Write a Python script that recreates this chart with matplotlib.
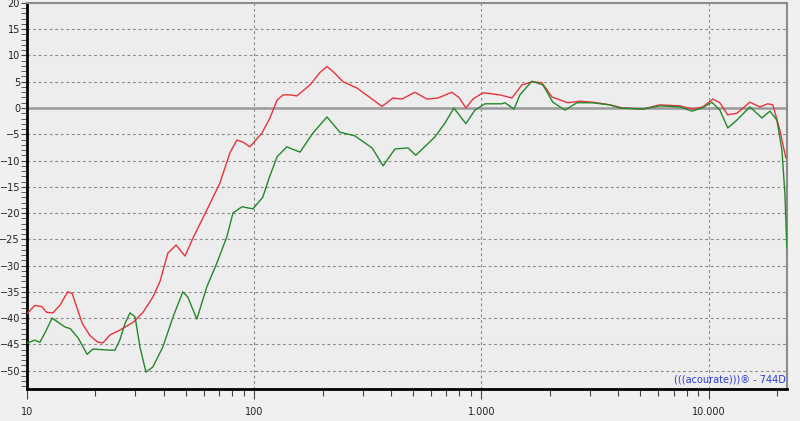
import matplotlib
matplotlib.use("Agg")
import matplotlib.pyplot as plt
from matplotlib.ticker import FixedLocator, FuncFormatter, MultipleLocator

# frequency response (Hz, dB)
red_freq = [10.0, 10.8, 11.6, 12.2, 13.0, 14.0, 15.1, 15.8, 17.5, 18.9, 20.5, 21.6,
            23.2, 25.6, 29.3, 32.4, 35.8, 38.5, 41.7, 45.3, 49.6, 53.7, 61.9, 70.6,
            78.2, 83.9, 89.2, 95.7, 108, 117, 126, 134, 144, 154, 176, 195, 209, 224,
            246, 283, 323, 365, 408, 447, 509, 575, 643, 741, 796, 854, 917, 1014,
            1205, 1361, 1506, 1683, 1845, 2042, 2400, 2710, 3092, 3672, 4189, 5128,
            6095, 7464, 8515, 9419, 10420, 11190, 12130, 13300, 15170, 16790, 18200,
            19150, 20550, 21840]
red_db = [-39.2, -37.6, -37.8, -38.9, -39.0, -37.5, -35.0, -35.3, -41.0, -43.3, -44.6, -44.7,
          -43.2, -42.3, -40.8, -38.9, -36.0, -33.0, -27.6, -26.1, -28.2, -24.8, -19.4, -14.3,
          -8.5, -6.1, -6.5, -7.4, -4.8, -2.0, 1.5, 2.5, 2.5, 2.3, 4.4, 6.8, 7.9, 6.8,
          5.0, 3.8, 2.0, 0.3, 1.9, 1.7, 3.0, 1.7, 1.9, 3.0, 2.0, 0.0, 1.7, 2.9,
          2.5, 1.9, 4.4, 5.0, 4.8, 2.1, 1.0, 1.3, 1.1, 0.6, 0.0, -0.2,
          0.6, 0.4, -0.2, 0.2, 1.7, 1.0, -1.3, -1.0, 1.1, 0.2, 0.8,
          0.6, -4.2, -9.5]

green_freq = [10.0, 10.8, 11.4, 12.1, 12.9, 13.7, 14.7, 15.5, 16.8, 18.4, 19.5, 23.2,
              24.4, 25.6, 27.0, 28.4, 29.9, 31.4, 33.4, 35.8, 39.6, 43.9, 48.5, 51.0,
              55.9, 61.9, 68.5, 75.8, 80.6, 88.3, 98.7, 109, 117, 126, 139, 159, 181,
              209, 238, 277, 330, 369, 416, 475, 514, 624, 690, 756, 854, 935, 1035,
              1230, 1268, 1390, 1476, 1667, 1863, 2061, 2328, 2630, 3062, 3672, 4064,
              5128, 6095, 7464, 8432, 9333, 10330, 11190, 12130, 13300, 15170, 17140,
              18590, 19950, 20990, 21630, 22080]
green_db = [-44.8, -44.2, -44.6, -42.5, -40.0, -40.8, -41.7, -42.0, -43.8, -46.9, -45.9, -46.1,
            -46.1, -44.2, -41.0, -39.0, -39.8, -45.5, -50.3, -49.3, -45.5, -39.8, -35.0, -36.0,
            -40.2, -34.0, -29.5, -24.5, -20.0, -18.8, -19.2, -17.0, -13.0, -9.3, -7.4, -8.4, -4.8,
            -1.7, -4.6, -5.3, -7.6, -11.0, -7.8, -7.6, -9.0, -5.5, -2.9, 0.0, -3.0, -0.4, 0.8,
            0.8, 1.0, -0.2, 2.5, 5.1, 4.4, 1.1, -0.4, 1.0, 1.0, 0.6, 0.0,
            -0.2, 0.4, 0.2, -0.6, 0.0, 1.1, -0.4, -3.8, -2.3, 0.2, -1.9,
            -0.6, -2.3, -8.0, -16.2, -26.7]

x_major = [10, 100, 1000, 10000]
x_labels = ["10", "100", "1.000", "10.000"]
y_major = list(range(-50, 21, 5))


def main() -> None:
    fig = plt.figure(figsize=(8.0, 4.21), dpi=100, facecolor="#f0f0f0")
    ax = fig.add_axes([0.03375, 0.076, 0.95, 0.917])
    ax.set_facecolor("#ededed")

    ax.set_xscale("log")
    ax.set_xlim(10, 22100)
    ax.set_ylim(-53.5, 20)

    ax.plot(red_freq, red_db, color="#e8333c", lw=1.0, zorder=3)
    ax.plot(green_freq, green_db, color="#24882a", lw=1.0, zorder=4)

    ax.xaxis.set_major_locator(FixedLocator(x_major))
    ax.xaxis.set_major_formatter(FuncFormatter(lambda v, p: x_labels[x_major.index(int(round(v)))] if int(round(v)) in x_major else ""))
    minor = [m * d for d in (10, 100, 1000, 10000) for m in range(2, 10) if m * d < 22100]
    ax.xaxis.set_minor_locator(FixedLocator(minor))
    ax.xaxis.set_minor_formatter(FuncFormatter(lambda v, p: ""))

    ax.yaxis.set_major_locator(FixedLocator(y_major))
    ax.yaxis.set_minor_locator(MultipleLocator(1))

    ax.tick_params(axis="both", which="both", colors="#444444", labelcolor="#222222", labelsize=7)
    ax.tick_params(axis="x", which="major", length=7, width=0.8, pad=6)
    ax.tick_params(axis="x", which="minor", length=5, width=0.8)
    ax.tick_params(axis="y", which="major", length=4, width=0.8, pad=1)
    ax.tick_params(axis="y", which="minor", length=4, width=0.6)

    for v in y_major:
        if v == 0:
            ax.axhline(0, color="#9a9a9a", lw=1.8, zorder=2)
        else:
            ax.axhline(v, color="#8a8a8a", lw=0.8, ls=(0, (2.5, 2.5)), zorder=1)
    for v in x_major[1:]:
        ax.axvline(v, color="#8a8a8a", lw=0.8, ls=(0, (2.5, 2.5)), zorder=1)

    for side in ("top", "right"):
        ax.spines[side].set_color("#8c8c8c")
        ax.spines[side].set_linewidth(1.5)
    for side in ("left", "bottom"):
        ax.spines[side].set_color("#000000")
        ax.spines[side].set_linewidth(2.0)

    ax.text(0.998, 0.012, "(((acourate)))® - 744D", transform=ax.transAxes,
            ha="right", va="bottom", color="#2b3bd8", fontsize=7)

    fig.savefig("out.png", dpi=100, facecolor=fig.get_facecolor())


if __name__ == "__main__":
    main()
